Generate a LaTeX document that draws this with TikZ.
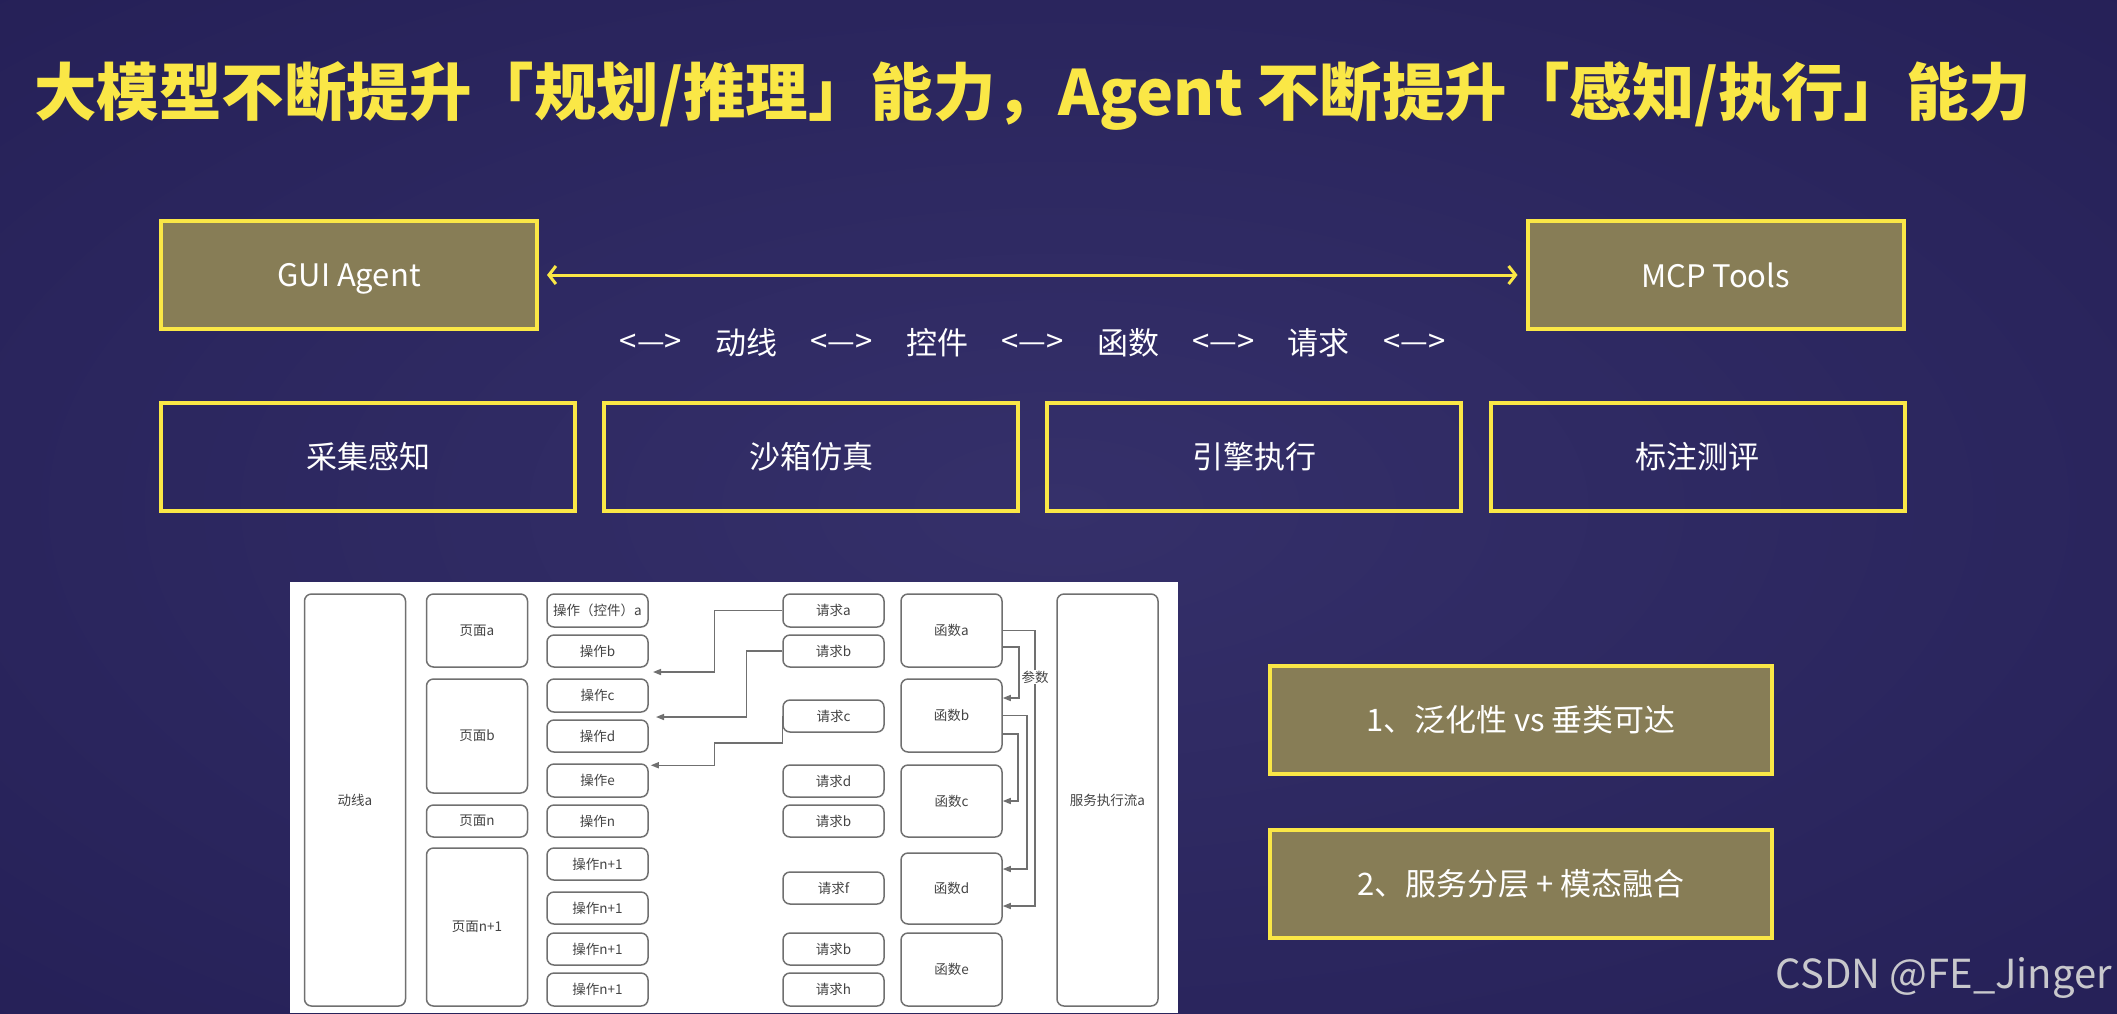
\documentclass[tikz,border=0pt]{standalone}
\usepackage{fontspec}
\setmainfont{Noto Sans CJK SC}
\usetikzlibrary{arrows.meta,calc}

\definecolor{bgmid}{HTML}{35306A}
\definecolor{bgedge}{HTML}{1F1A50}
\definecolor{slideyellow}{HTML}{FAE746}
\definecolor{olivefill}{HTML}{877D56}
\definecolor{linegray}{HTML}{707070}
\definecolor{textgray}{HTML}{444444}
\definecolor{markgray}{HTML}{C8C8CC}

\pgfdeclareradialshading{slidebg}{\pgfpoint{0bp}{0bp}}{color(0bp)=(bgmid); color(50bp)=(bgedge)}

\tikzset{
  hlbox/.style={draw=slideyellow, line width=4pt, fill=olivefill, text=white,
    minimum height=108pt, font=\fontsize{31}{36}\selectfont},
  plbox/.style={draw=slideyellow, line width=4pt, text=white,
    minimum width=414pt, minimum height=108pt, font=\fontsize{31}{36}\selectfont},
  ebox/.style={draw=linegray, line width=1.5pt, rounded corners=7pt, fill=white,
    text=textgray, minimum width=101pt, inner sep=1pt, font=\fontsize{13.5}{16}\selectfont},
  elink/.style={linegray, line width=1.5pt, -{Triangle[length=8pt,width=6pt]}},
}

\begin{document}
\begin{tikzpicture}[x=1pt, y=-1pt]

\useasboundingbox (0,0) rectangle (2117,1013);
\shade[shading=slidebg] (0,0) rectangle (2117,1013);

%title
\node[anchor=west, inner sep=0, text=slideyellow, font=\bfseries\fontsize{62.5}{72}\selectfont] (title) at (34,96)
	{大模型不断提升「规划/推理」能力，Agent 不断提升「感知/执行」能力};

%agent and tools
\node[hlbox, minimum width=376pt, text depth=0pt] (gui) at (349,275) {GUI Agent};
\node[hlbox, minimum width=376pt] (mcp) at (1715.5,275) {MCP Tools};
\draw[slideyellow, line width=3pt, {Straight Barb[length=7pt,width=18pt]}-{Straight Barb[length=7pt,width=18pt]},
	shorten <=8pt, shorten >=8pt] (gui) -- (mcp);
\foreach \lbl [count=\i from 0] in {<—>, 动线, <—>, 控件, <—>, 函数, <—>, 请求, <—>}
	\node[text=white, font=\fontsize{31}{36}\selectfont] (link\i) at ({651+95.4*\i},343) {\lbl};

%stages
\foreach \lbl [count=\i from 0] in {采集感知, 沙箱仿真, 引擎执行, 标注测评}
	\node[plbox] (stage\i) at ({368+443.2*\i},457) {\lbl};

%points
\node[hlbox, minimum width=502pt] (pointa) at (1521,720) {1、泛化性 vs 垂类可达};
\node[hlbox, minimum width=502pt] (pointb) at (1521,884) {2、服务分层 + 模态融合};

%flow chart
\fill[white] (290,582) rectangle (1178,1013);
\node[ebox, minimum height=412pt] (route) at (355,800) {动线a};
\node[ebox, minimum height=412pt] (service) at (1107.5,800) {服务执行流a};
\foreach \nm/\ya/\yb/\lbl in {pga/594/667/页面a, pgb/679/793/页面b, pgn/805/837/页面n, pgm/848/1006/页面n+1}
	\node[ebox, minimum height={\yb-\ya}] (\nm) at (477,{(\ya+\yb)/2}) {\lbl};
\foreach \nm/\ya/\yb/\lbl in {opa/594/627/操作（控件）a, opb/635/667/操作b, opc/679/712/操作c, opd/720/752/操作d,
	ope/764/797/操作e, opn/805/837/操作n, opm/848/880/操作n+1, opp/892/924/操作n+1, opq/933/965/操作n+1, opr/973/1006/操作n+1}
	\node[ebox, minimum height={\yb-\ya}] (\nm) at (597.5,{(\ya+\yb)/2}) {\lbl};
\foreach \nm/\ya/\yb/\lbl in {rqa/594/627/请求a, rqb/635/667/请求b, rqc/700/732/请求c, rqd/765/797/请求d,
	rqe/805/837/请求b, rqf/872/904/请求f, rqg/933/965/请求b, rqh/973/1006/请求h}
	\node[ebox, minimum height={\yb-\ya}] (\nm) at (833.5,{(\ya+\yb)/2}) {\lbl};
\foreach \nm/\ya/\yb/\lbl in {fna/594/667/函数a, fnb/679/752/函数b, fnc/765/837/函数c, fnd/853/924/函数d, fne/933/1006/函数e}
	\node[ebox, minimum height={\yb-\ya}] (\nm) at (951.5,{(\ya+\yb)/2}) {\lbl};

%requests to operations
\coordinate (tipb) at (653,672);
\coordinate (tipc) at (656,717);
\draw[elink] (rqa.west) -- ++(-68,0) |- (tipb);
\draw[elink] (rqb.west) -- ++(-36,0) |- (tipc);
\draw[elink] (rqc.west) -- ++(0,27) -- ++(-68,0) |- ($(ope.north east)+(2,2)$);

%function parameters
\draw[elink] (fna.east) -- ++(32,0) |- ($(fnd.east)+(0,17.5)$);
\draw[elink] ($(fna.east)+(0,16.5)$) -- ++(16,0) |- ($(fnb.east)+(0,-17.5)$);
\draw[elink] (fnb.east) -- ++(24,0) |- ($(fnd.east)+(0,-19.5)$);
\draw[elink] ($(fnb.east)+(0,18.5)$) -- ++(15,0) |- (fnc.east);
\node[fill=white, inner sep=1pt, text=textgray, font=\fontsize{13.5}{16}\selectfont] (param) at (1035,677) {参数};

%watermark
\node[anchor=base east, inner sep=0, text=markgray, font=\fontsize{40}{44}\selectfont] (mark) at (2112,988) {CSDN @FE\_Jinger};

\end{tikzpicture}
\end{document}
